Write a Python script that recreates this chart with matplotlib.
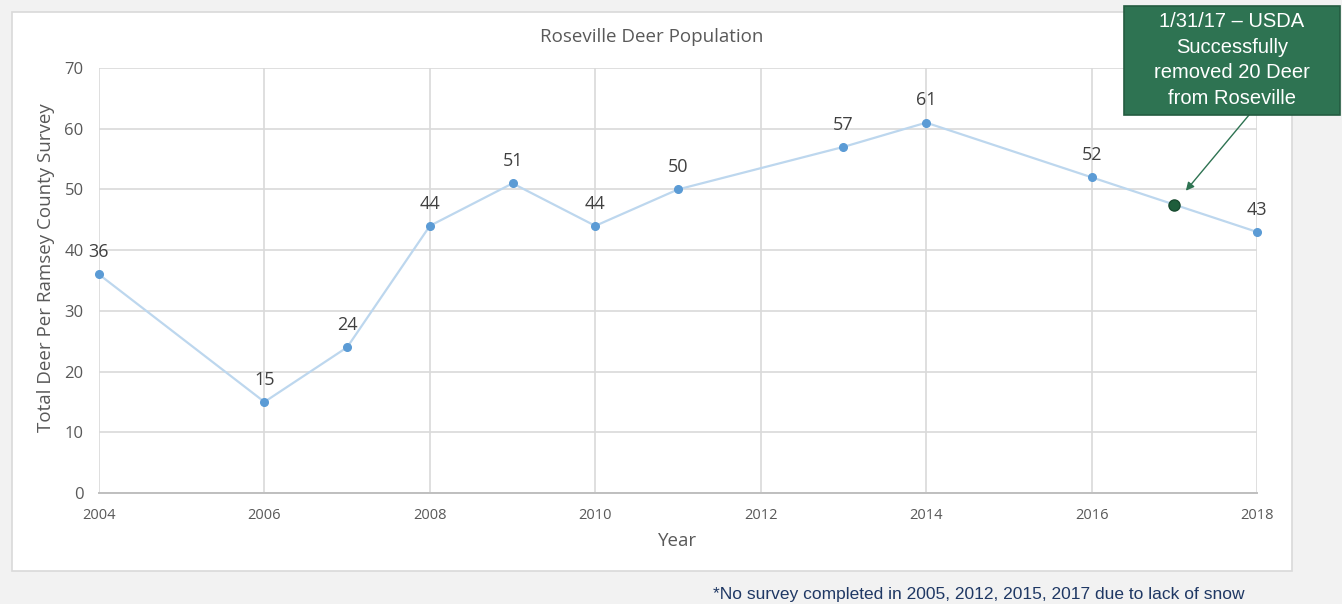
import matplotlib
matplotlib.use("Agg")
import matplotlib.pyplot as plt
from matplotlib.patches import Rectangle

# survey years and counts
years = [2004, 2006, 2007, 2008, 2009, 2010, 2011, 2013, 2014, 2016, 2018]
deer = [36, 15, 24, 44, 51, 44, 50, 57, 61, 52, 43]

# USDA removal marker (on the line between 2016 and 2018)
event_year = 2017
event_value = 47.5
event_text = "1/31/17 \u2013 USDA\nSuccessfully\nremoved 20 Deer\nfrom Roseville"

x_ticks = [2004, 2006, 2008, 2010, 2012, 2014, 2016, 2018]
y_ticks = [0, 10, 20, 30, 40, 50, 60, 70]

W, H = 1342, 604
plt.rcParams['font.family'] = ['Open Sans', 'DejaVu Sans']

fig = plt.figure(figsize=(W / 100, H / 100), dpi=100)
fig.patch.set_facecolor('#f2f2f2')

# white chart area
fig.patches.append(Rectangle((12 / W, 1 - 571 / H), (1292 - 12) / W, (571 - 12) / H,
                             transform=fig.transFigure, facecolor='white',
                             edgecolor='#d9d9d9', linewidth=1.2, zorder=-5))

ax = fig.add_axes([99 / W, 1 - 493 / H, (1257 - 99) / W, (493 - 68) / H])
ax.set_facecolor('none')

ax.plot(years, deer, color='#bdd7ee', linewidth=1.6, zorder=2, clip_on=False)
ax.plot(years, deer, 'o', color='#5b9bd5', markersize=5.5, zorder=3, clip_on=False)
ax.plot([event_year], [event_value], 'o', color='#1e5e3c', markeredgecolor='#174a2f',
        markersize=8, zorder=4, clip_on=False)

for x, y in zip(years, deer):
    ax.annotate(str(y), (x, y), xytext=(0, 16), textcoords='offset points',
                ha='center', va='center', fontsize=13, color='#404040')

ax.set_xlim(2004, 2018)
ax.set_ylim(0, 70)
ax.set_xticks(x_ticks)
ax.set_yticks(y_ticks)
ax.tick_params(axis='both', length=0, colors='#595959')
ax.tick_params(axis='y', labelsize=12, pad=11)
ax.tick_params(axis='x', labelsize=10.5, pad=11)
ax.grid(True, color='#d9d9d9', linewidth=1.2)
ax.set_axisbelow(True)
for s in ['top', 'right', 'left']:
    ax.spines[s].set_visible(False)
ax.spines['bottom'].set_color('#bfbfbf')
ax.spines['bottom'].set_linewidth(1.4)

fig.text(652 / W, 1 - 37 / H, 'Roseville Deer Population', ha='center', va='center',
         fontsize=13.5, color='#595959')
fig.text(46 / W, 1 - 268 / H, 'Total Deer Per Ramsey County Survey', rotation=90,
         ha='center', va='center', fontsize=13.5, color='#595959')
fig.text(678 / W, 1 - 541 / H, 'Year', ha='center', va='center',
         fontsize=13.5, color='#595959')

fig.text(713 / W, 1 - 594 / H,
         '*No survey completed in 2005, 2012, 2015, 2017 due to lack of snow',
         ha='left', va='center', fontsize=12.5, color='#1f3864',
         family='Liberation Sans')

# callout box
fig.patches.append(Rectangle((1124 / W, 1 - 115 / H), (1340 - 1124) / W, (115 - 6) / H,
                             transform=fig.transFigure, facecolor='#2e7352',
                             edgecolor='#245c41', linewidth=1.2, zorder=5))
fig.text(1232 / W, 1 - 60 / H, event_text, ha='center', va='center',
         fontsize=14.5, color='white', family='Liberation Sans',
         linespacing=1.44, zorder=6)

ax.annotate('', xy=(event_year, event_value),
            xytext=(1249 / W, 1 - 115 / H), textcoords='figure fraction',
            arrowprops=dict(arrowstyle='-|>', color='#2e7352', linewidth=1,
                            mutation_scale=12, shrinkA=0, shrinkB=13),
            annotation_clip=False, zorder=6)

fig.savefig('out.png', dpi=100, facecolor=fig.get_facecolor())
